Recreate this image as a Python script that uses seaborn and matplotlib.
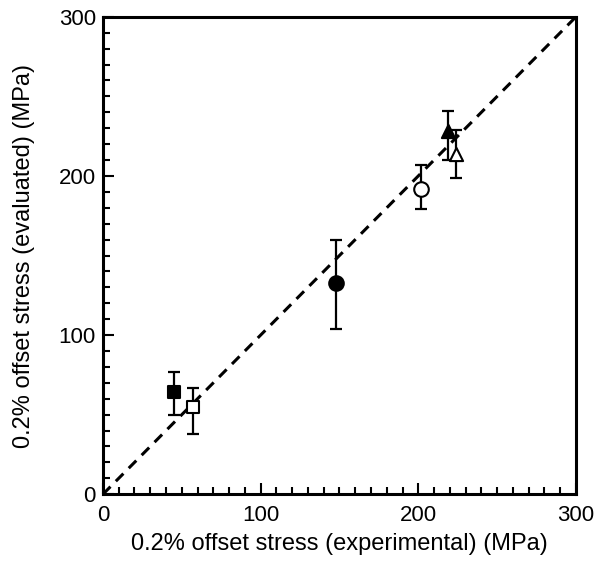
import numpy as np
import pandas as pd
import matplotlib
matplotlib.use('Agg')
import matplotlib.pyplot as plt
import seaborn as sns

# Values (MPa)
labels = ['sq_filled', 'sq_open', 'circ_filled', 'circ_open', 'tri_filled', 'tri_open']
experimental = [45, 57, 148, 202, 219, 224]
evaluated = [64, 55, 133, 192, 228, 214]
err_low = [50, 38, 104, 179, 210, 199]
err_high = [77, 67, 160, 207, 241, 229]
shapes = ['s', 's', 'o', 'o', '^', '^']
filled = [True, False, True, False, True, False]

line_x = [0, 300]
line_y = [0, 300]

df = pd.DataFrame({
    'label': labels,
    'exp': experimental,
    'eval': evaluated,
    'lo': err_low,
    'hi': err_high,
    'shape': shapes,
    'filled': filled,
})

sns.set_style('ticks', {'axes.edgecolor': 'black', 'text.color': 'black',
                        'xtick.color': 'black', 'ytick.color': 'black',
                        'axes.labelcolor': 'black'})
plt.rcParams['font.family'] = ['Liberation Sans', 'DejaVu Sans']

fig = plt.figure(figsize=(5.95, 5.61), dpi=100)
ax = fig.add_axes([0.173, 0.119, 0.795, 0.851])

# y = x reference line
sns.lineplot(x=line_x, y=line_y, ax=ax, color='black', linewidth=2.2,
             linestyle=(0, (3.5, 2.5)), zorder=1)

# error bars
yerr = np.vstack([df['eval'] - df['lo'], df['hi'] - df['eval']])
ax.errorbar(df['exp'], df['eval'], yerr=yerr, fmt='none', ecolor='black',
            elinewidth=1.6, capsize=4, capthick=1.6, zorder=2)

sizes = {'s': 80, 'o': 110, '^': 90}
for _, row in df.iterrows():
    face = 'black' if row['filled'] else 'white'
    sns.scatterplot(x=[row['exp']], y=[row['eval']], ax=ax, marker=row['shape'],
                    s=sizes[row['shape']], facecolor=face, edgecolor='black',
                    linewidth=1.5, zorder=3)

ax.set_xlim(0, 300)
ax.set_ylim(0, 300)
ax.set_xticks([0, 100, 200, 300])
ax.set_yticks([0, 100, 200, 300])
ax.set_xticks(np.arange(0, 301, 10), minor=True)
ax.set_yticks(np.arange(0, 301, 10), minor=True)
ax.tick_params(which='both', direction='in', top=False, right=False,
               width=1.5, labelsize=16, colors='black')
ax.tick_params(axis='x', pad=8)
ax.tick_params(axis='y', pad=5)
ax.tick_params(which='major', length=8)
ax.tick_params(which='minor', length=5)
for sp in ax.spines.values():
    sp.set_linewidth(2.2)
    sp.set_color('black')
    sp.set_visible(True)

ax.set_xlabel('0.2% offset stress (experimental) (MPa)', fontsize=17, labelpad=5,
              color='black')
ax.set_ylabel('0.2% offset stress (evaluated) (MPa)', fontsize=17, labelpad=17,
              color='black')

fig.savefig('out.png', dpi=100)
